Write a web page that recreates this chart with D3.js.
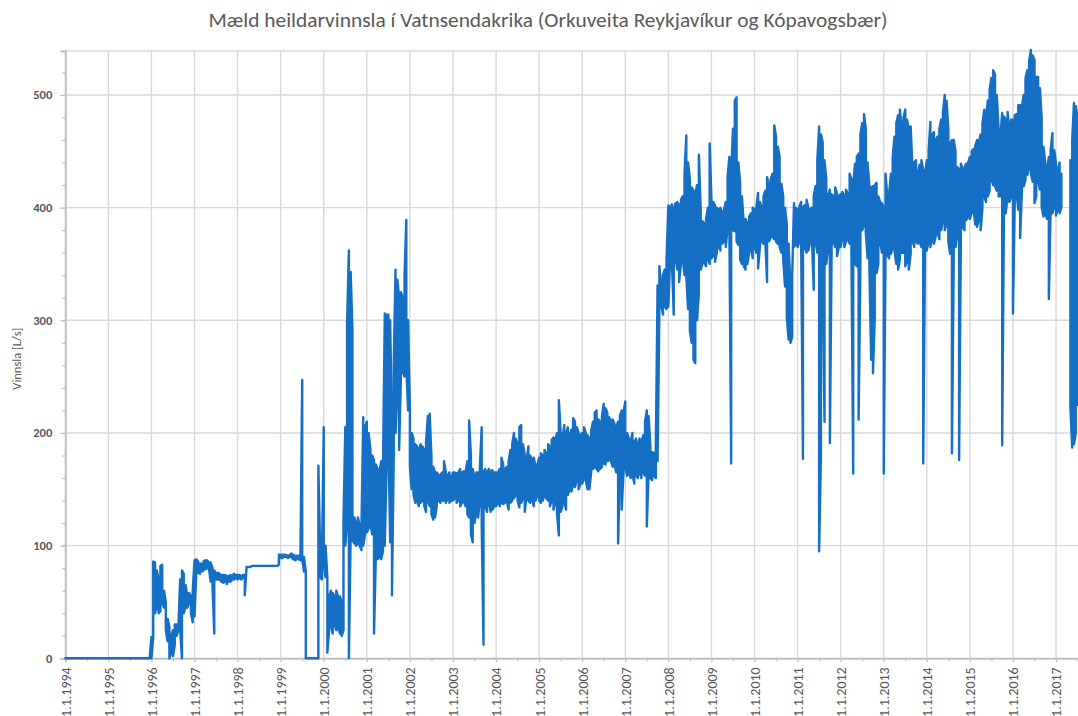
<!DOCTYPE html>
<html>
<head>
<meta charset="utf-8">
<script src="https://cdn.jsdelivr.net/npm/d3@7"></script>
<style>
  body { margin: 0; background: #ffffff; }
  svg { display: block; }
</style>
</head>
<body>
<script>
// ---- Chart text ----
const chartTitle = "Mæld heildarvinnsla í Vatnsendakrika (Orkuveita Reykjavíkur og Kópavogsbær)";
const yAxisTitle = "Vinnsla [L/s]";

// ---- Tick values ----
const tickYears = [1994, 1995, 1996, 1997, 1998, 1999, 2000, 2001, 2002, 2003, 2004, 2005,
                   2006, 2007, 2008, 2009, 2010, 2011, 2012, 2013, 2014, 2015, 2016, 2017];
const yTicks = [0, 100, 200, 300, 400, 500];

// ---- Measured flow, L/s ----
// One row per calendar year starting 1994, 24 half-month periods per row.
// flowLow / flowHigh hold the lowest and highest reading in each period.
const firstYear = 1994;
const periodsPerYear = 24;

const flowLow = [
  /*1994*/ [0,0,0,0,0,0,0,0,0,0,0,0,0,0,0,0,0,0,0,0,0,0,0,0],
  /*1995*/ [0,0,0,0,0,0,0,0,0,0,0,0,0,0,0,0,0,0,0,0,0,0,0,0],
  /*1996*/ [0,19,40,45,40,42,50,45,25,15,0,5,2,12,20,25,25,0,40,45,45,50,40,32],
  /*1997*/ [37,78,76,75,77,78,79,80,80,68,65,22,70,70,70,68,67,68,66,69,68,70,70,71],
  /*1998*/ [70,71,70,72,56,81,81,81,82,82,82,82,82,82,82,82,82,82,82,82,82,82,82,83],
  /*1999*/ [89,89,90,90,89,90,90,88,87,88,88,87,88,77,0,0,0,0,0,0,0,0,72,70],
  /*2000*/ [85,72,5,25,30,22,30,25,28,22,20,25,100,120,0,110,105,102,100,102,100,96,100,110],
  /*2001*/ [112,115,120,110,22,90,88,90,88,95,100,170,200,103,56,180,200,235,185,250,255,250,260,220],
  /*2002*/ [170,150,145,138,140,135,138,140,135,130,140,135,128,123,125,135,140,138,140,140,138,142,138,140],
  /*2003*/ [140,142,138,140,135,138,140,135,128,125,110,103,120,130,125,140,120,12,135,130,138,130,132,135],
  /*2004*/ [135,138,135,140,137,138,140,132,138,140,142,145,140,134,138,142,130,145,140,138,142,135,140,145],
  /*2005*/ [140,138,140,145,142,140,135,140,132,138,128,109,130,135,140,132,145,150,148,155,152,158,150,155],
  /*2006*/ [155,160,158,150,150,165,168,170,168,166,168,170,173,172,175,176,175,170,172,165,102,170,132,165],
  /*2007*/ [170,162,165,160,164,155,162,160,165,160,165,162,117,165,160,158,162,160,175,310,315,305,312,310],
  /*2008*/ [312,355,352,305,355,345,334,350,355,340,339,310,291,280,265,262,300,324,345,350,352,348,355,350],
  /*2009*/ [355,358,352,360,365,362,368,370,365,383,380,173,380,379,370,367,354,350,348,345,350,360,365,355],
  /*2010*/ [365,360,346,365,370,368,372,334,370,373,375,372,370,368,365,360,354,330,303,283,280,285,365,368],
  /*2011*/ [365,370,368,177,365,360,362,370,372,327,370,360,95,180,330,210,350,365,191,368,370,365,357,365],
  /*2012*/ [365,374,365,370,372,368,360,164,350,348,212,350,380,385,378,355,348,265,253,303,342,350,370,360],
  /*2013*/ [164,360,358,355,359,365,362,350,345,354,360,360,348,352,345,359,371,365,370,368,370,365,173,365],
  /*2014*/ [362,370,365,372,368,375,378,372,380,389,380,385,370,359,182,355,365,377,176,377,383,380,389,392],
  /*2015*/ [390,395,400,385,383,390,380,400,410,405,410,415,425,420,419,415,410,410,189,401,395,410,405,410],
  /*2016*/ [306,405,413,398,373,415,419,425,429,436,430,423,404,410,425,416,400,392,395,390,319,401,395,401],
  /*2017*/ [393,399,395,400,null,null,null,null,223,187,190,200,225]
];

const flowHigh = [
  /*1994*/ [0,0,0,0,0,0,0,0,0,0,0,0,0,0,0,0,0,0,0,0,0,0,0,0],
  /*1995*/ [0,0,0,0,0,0,0,0,0,0,0,0,0,0,0,0,0,0,0,0,0,0,0,0],
  /*1996*/ [19,86,85,78,70,82,83,60,50,35,28,20,25,30,30,28,70,78,75,65,55,58,55,60],
  /*1997*/ [87,88,86,84,84,86,87,87,85,85,80,78,75,76,75,74,74,74,73,73,74,73,75,74],
  /*1998*/ [74,74,73,74,74,81,81,81,82,82,82,82,82,82,82,82,82,82,82,82,82,82,82,92],
  /*1999*/ [92,92,92,92,91,92,93,92,91,91,91,90,247,90,77,0,0,0,0,0,0,171,95,90],
  /*2000*/ [205,100,72,55,60,58,55,60,55,55,50,123,205,297,362,343,290,125,120,125,118,115,214,205],
  /*2001*/ [210,200,185,180,176,172,168,165,175,170,306,305,305,300,200,262,345,336,320,325,320,340,389,300],
  /*2002*/ [220,200,195,190,188,185,190,188,185,192,215,217,180,170,165,165,162,163,165,175,165,162,165,160],
  /*2003*/ [165,165,164,165,168,165,166,165,175,211,180,168,160,165,165,170,205,165,168,165,168,166,167,165],
  /*2004*/ [165,165,168,178,172,168,170,175,185,190,200,195,190,205,207,190,180,175,188,180,176,178,170,172],
  /*2005*/ [178,182,180,185,182,190,188,194,196,194,200,229,200,195,207,200,205,198,203,213,210,205,200,198],
  /*2006*/ [200,205,200,198,195,202,210,218,220,212,210,215,226,222,218,214,210,212,208,205,210,215,220,218],
  /*2007*/ [228,200,195,192,200,192,195,190,195,192,198,210,220,215,188,183,182,185,331,348,330,340,345,355],
  /*2008*/ [402,400,403,398,404,405,402,407,410,430,464,440,425,418,415,412,420,447,400,388,386,390,400,457],
  /*2009*/ [407,405,402,400,398,400,395,398,405,427,445,430,470,495,498,440,422,410,386,390,386,392,395,400],
  /*2010*/ [398,400,413,405,400,410,415,427,420,425,430,473,463,454,445,421,410,400,385,368,330,340,404,400],
  /*2011*/ [398,401,405,400,402,407,400,398,400,410,419,442,472,465,458,442,425,410,416,412,410,418,412,410],
  /*2012*/ [412,414,410,416,412,430,425,420,439,445,448,465,475,483,470,440,419,418,419,420,422,410,405,404],
  /*2013*/ [400,430,410,412,430,445,463,475,482,487,470,480,487,478,470,472,436,440,442,430,438,442,433,430],
  /*2014*/ [442,450,476,465,467,460,463,470,478,485,500,495,470,457,460,460,450,436,434,439,433,436,439,440],
  /*2015*/ [445,450,452,455,460,458,465,475,487,480,495,505,515,522,518,500,470,463,484,481,478,485,470,478],
  /*2016*/ [478,482,483,491,491,490,500,515,522,530,540,535,531,516,516,506,480,454,440,433,445,451,466,451],
  /*2017*/ [439,433,440,430,null,null,null,null,442,460,493,490,480]
];

// ---- Layout ----
const W = 1078, H = 716;
const plot = { left: 65.3, right: 1078, top: 51, bottom: 658.3 };
const textColor = "#595959";
const gridColor = "#d9d9d9";
const axisColor = "#bfbfbf";
const lineColor = "#156fc4";
const fontFamily = "Carlito, Lato, 'Open Sans', sans-serif";

const svg = d3.select("body").append("svg")
  .attr("width", W).attr("height", H)
  .style("background", "#ffffff");

const x = d3.scaleLinear().domain([1994, 2017.51]).range([plot.left, plot.right]);
const y = d3.scaleLinear().domain([0, 539]).range([plot.bottom, plot.top]);

// Gridlines
const grid = svg.append("g");
grid.selectAll("line.h").data(yTicks).join("line")
  .attr("x1", plot.left).attr("x2", plot.right)
  .attr("y1", d => y(d)).attr("y2", d => y(d))
  .attr("stroke", gridColor).attr("stroke-width", 1.4);
grid.selectAll("line.v").data(tickYears).join("line")
  .attr("x1", d => x(d)).attr("x2", d => x(d))
  .attr("y1", plot.top).attr("y2", plot.bottom)
  .attr("stroke", gridColor).attr("stroke-width", 1.4);
grid.append("line")
  .attr("x1", plot.left - 4).attr("x2", plot.right)
  .attr("y1", plot.top).attr("y2", plot.top)
  .attr("stroke", gridColor).attr("stroke-width", 1.4);

// Y axis: major + minor ticks
const yAxis = svg.append("g").attr("transform", `translate(${plot.left},0)`)
  .call(d3.axisLeft(y).tickValues(yTicks).tickSize(5).tickPadding(8).tickFormat(d3.format("d")));
const yMinor = svg.append("g").attr("transform", `translate(${plot.left},0)`)
  .call(d3.axisLeft(y).tickValues(d3.range(0, 540, 20)).tickSize(3).tickFormat(""));

// X axis: year ticks + half-year ticks
const xAxis = svg.append("g").attr("transform", `translate(0,${plot.bottom})`)
  .call(d3.axisBottom(x).tickValues(tickYears).tickSize(4).tickFormat(d => "1.1." + d));
const xMinor = svg.append("g").attr("transform", `translate(0,${plot.bottom})`)
  .call(d3.axisBottom(x).tickValues(tickYears.map(d => d + 0.5)).tickSize(3).tickFormat(""));

[yAxis, yMinor, xAxis, xMinor].forEach(g => {
  g.selectAll(".domain").attr("stroke", axisColor).attr("stroke-width", 1.4);
  g.selectAll(".tick line").attr("stroke", axisColor).attr("stroke-width", 1.2);
});

yAxis.selectAll("text")
  .attr("fill", textColor)
  .style("font-family", fontFamily)
  .style("font-size", "12.5px")
  .style("font-weight", "bold");

xAxis.selectAll("text")
  .attr("transform", "rotate(-90)")
  .attr("text-anchor", "end")
  .attr("x", -9).attr("y", 0).attr("dy", "0.35em")
  .attr("fill", textColor)
  .style("font-family", fontFamily)
  .style("font-size", "14px");

// Flow series: each period is drawn as a vertical stroke between its
// low and high reading, joined into one continuous trace.
const points = [];
let k = 0;
flowLow.forEach((row, yi) => {
  row.forEach((lo, i) => {
    const hi = flowHigh[yi][i];
    const t = firstYear + yi + i / periodsPerYear;
    const order = (k % 2 === 0) ? [hi, lo] : [lo, hi];
    points.push({ t, v: order[0] }, { t, v: order[1] });
    k++;
  });
});

const line = d3.line()
  .defined(d => d.v !== null)
  .x(d => x(d.t))
  .y(d => y(d.v));

svg.append("path")
  .datum(points)
  .attr("fill", "none")
  .attr("stroke", lineColor)
  .attr("stroke-width", 2.4)
  .attr("stroke-linejoin", "round")
  .attr("stroke-linecap", "round")
  .attr("d", line);

// Titles
svg.append("text")
  .attr("x", 548).attr("y", 27)
  .attr("text-anchor", "middle")
  .attr("textLength", 679)
  .attr("lengthAdjust", "spacingAndGlyphs")
  .attr("fill", textColor)
  .style("font-family", fontFamily)
  .style("font-size", "19.5px")
  .text(chartTitle);

svg.append("text")
  .attr("transform", `translate(21,${(plot.top + plot.bottom) / 2 + 4}) rotate(-90)`)
  .attr("text-anchor", "middle")
  .attr("fill", textColor)
  .style("font-family", fontFamily)
  .style("font-size", "12.5px")
  .text(yAxisTitle);
</script>
</body>
</html>
